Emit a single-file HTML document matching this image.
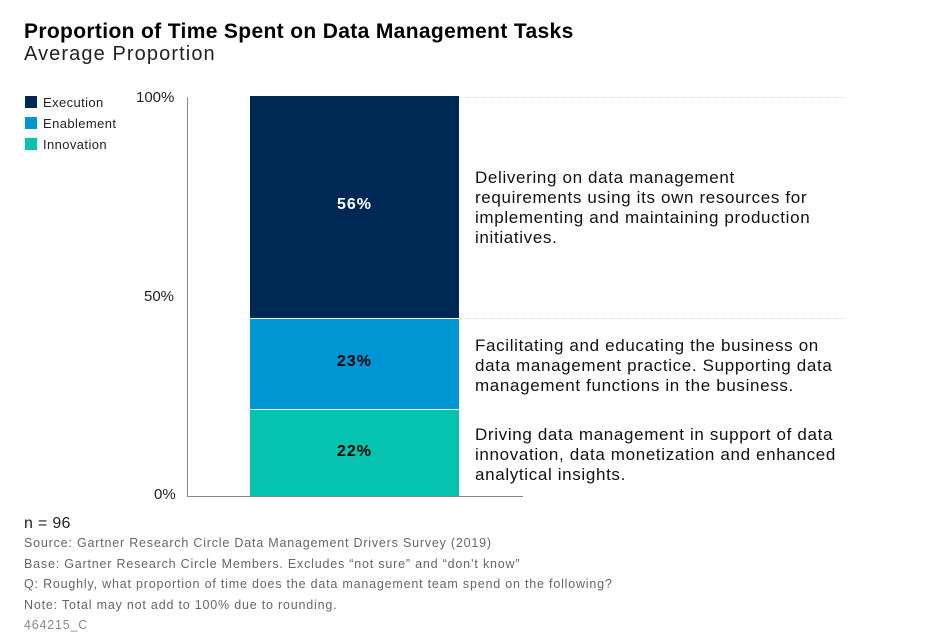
<!DOCTYPE html>
<html><head><style>
body{margin:0;width:934px;height:643px;background:#fff;font-family:"Liberation Sans",sans-serif;position:relative;overflow:hidden;color:#000}
.a{position:absolute;white-space:nowrap}
.lg{font-size:13px;color:#222;letter-spacing:0.4px}
.sq{display:inline-block;width:12px;height:12px;vertical-align:-1px;margin-right:6px}
.d{font-size:17px;line-height:20px;color:#111;letter-spacing:0.65px}
.f{font-size:12.5px;color:#666;letter-spacing:0.8px}
.p{font-weight:bold;font-size:16px;color:#fff;text-align:center;width:209px;left:250px;letter-spacing:1px}
</style></head><body>
<div class="a" style="left:24px;top:20px;font-size:21px;font-weight:bold;letter-spacing:0.35px">Proportion of Time Spent on Data Management Tasks</div>
<div class="a" style="left:24px;top:43px;font-size:20px;color:#222;letter-spacing:1.1px">Average Proportion</div>
<div class="a lg" style="left:25px;top:95px"><span class="sq" style="background:#002855"></span>Execution</div>
<div class="a lg" style="left:25px;top:116px"><span class="sq" style="background:#0096d6"></span>Enablement</div>
<div class="a lg" style="left:25px;top:137px"><span class="sq" style="background:#06c3b0"></span>Innovation</div>
<div class="a" style="left:136px;top:89px;font-size:15px;color:#222">100%</div>
<div class="a" style="left:144px;top:288px;font-size:15px;color:#222">50%</div>
<div class="a" style="left:154px;top:486px;font-size:15px;color:#222">0%</div>
<div class="a" style="left:187px;top:97px;width:1px;height:400px;background:#888"></div>
<div class="a" style="left:187px;top:496px;width:336px;height:1px;background:#888"></div>
<div class="a" style="left:459px;top:97px;width:386px;border-top:1px dotted #ddd"></div>
<div class="a" style="left:459px;top:318px;width:386px;border-top:1px dotted #ddd"></div>
<div class="a" style="left:250px;top:96px;width:209px;height:222px;background:#002855"></div>
<div class="a" style="left:250px;top:319px;width:209px;height:90px;background:#0096d6"></div>
<div class="a" style="left:250px;top:410px;width:209px;height:86px;background:#06c3b0"></div>
<div class="a p" style="top:196px">56%</div>
<div class="a p" style="top:353px;color:#000">23%</div>
<div class="a p" style="top:443px;color:#000">22%</div>
<div class="a d" style="left:475px;top:168px">Delivering on data management<br>requirements using its own resources for<br>implementing and maintaining production<br>initiatives.</div>
<div class="a d" style="left:475px;top:336px">Facilitating and educating the business on<br>data management practice. Supporting data<br>management functions in the business.</div>
<div class="a d" style="left:475px;top:425px">Driving data management in support of data<br>innovation, data monetization and enhanced<br>analytical insights.</div>
<div class="a" style="left:24px;top:515px;font-size:16px;color:#222;letter-spacing:0.3px">n = 96</div>
<div class="a f" style="left:24px;top:536px">Source: Gartner Research Circle Data Management Drivers Survey (2019)</div>
<div class="a f" style="left:24px;top:557px">Base: Gartner Research Circle Members. Excludes “not sure” and “don’t know”</div>
<div class="a f" style="left:24px;top:577px">Q: Roughly, what proportion of time does the data management team spend on the following?</div>
<div class="a f" style="left:24px;top:598px">Note: Total may not add to 100% due to rounding.</div>
<div class="a f" style="left:24px;top:618px;color:#888">464215_C</div>
</body></html>
